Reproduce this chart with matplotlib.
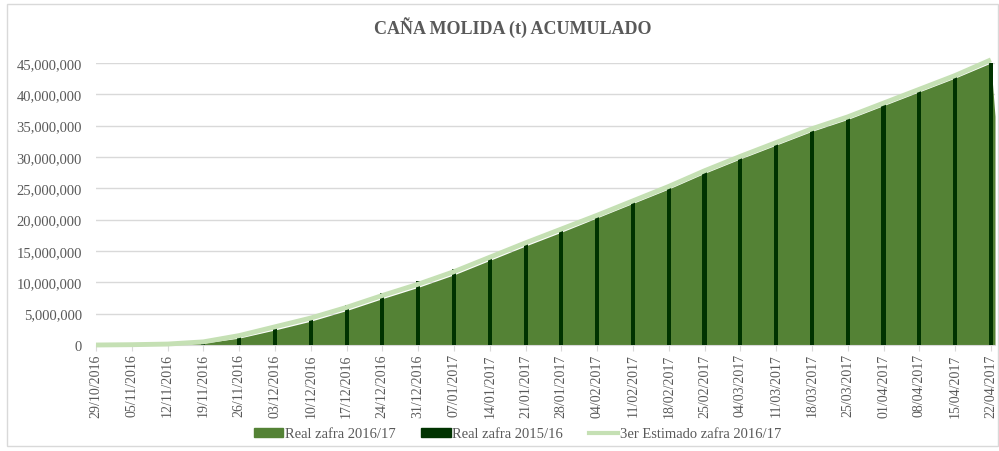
import numpy as np
import matplotlib.pyplot as plt
from matplotlib.patches import Patch, Rectangle
from matplotlib.lines import Line2D
from matplotlib.ticker import FuncFormatter

plt.rcParams['font.family'] = ['Liberation Serif', 'DejaVu Serif']

# weekly dates (Saturday), 29/10/2016 .. 22/04/2017
fechas = ["29/10/2016", "05/11/2016", "12/11/2016", "19/11/2016", "26/11/2016",
          "03/12/2016", "10/12/2016", "17/12/2016", "24/12/2016", "31/12/2016",
          "07/01/2017", "14/01/2017", "21/01/2017", "28/01/2017", "04/02/2017",
          "11/02/2017", "18/02/2017", "25/02/2017", "04/03/2017", "11/03/2017",
          "18/03/2017", "25/03/2017", "01/04/2017", "08/04/2017", "15/04/2017",
          "22/04/2017"]

# cumulative cane milled, millions of t
real_2016 = [0.0, 0.03, 0.1, 0.3, 1.1, 2.4, 3.8, 5.5, 7.4, 9.2, 11.2, 13.5, 15.8,
             18.0, 20.3, 22.6, 24.9, 27.4, 29.7, 31.9, 34.1, 36.0, 38.2, 40.4,
             42.6, 45.0]
real_2016_fin = 36.5   # last daily point after 22/04 (area drops at the edge)
real_2015 = [0.0, 0.0, 0.3, 0.7, 1.7, 3.0, 4.6, 6.4, 8.3, 10.2, 12.1, 14.2, 16.4,
             18.5, 20.6, 22.9, 25.2, 27.6, 30.0, 32.2, 34.6, 36.4, 38.5, 40.8,
             43.0, 45.1]
estimado = [0.0, 0.05, 0.15, 0.5, 1.5, 2.9, 4.3, 6.0, 7.9, 9.7, 11.7, 14.0, 16.3,
            18.5, 20.7, 23.0, 25.3, 27.8, 30.1, 32.3, 34.5, 36.4, 38.6, 40.8,
            43.0, 45.5]

c_area = "#548235"
c_bar = "#003300"
c_line = "#c5e0b4"
c_text = "#595959"

dias = np.arange(len(fechas)) * 7
xmax = dias[-1] + 0.8

fig = plt.figure(figsize=(9.99, 4.52), dpi=100)
fig.patches.append(Rectangle((7 / 999, 5 / 452), 991 / 999, 442 / 452,
                             transform=fig.transFigure, fill=False,
                             edgecolor="#d9d9d9", lw=1))
ax = fig.add_axes([96 / 999, 1 - 346 / 452, (995 - 96) / 999, (346 - 64) / 452])

xa = np.append(dias, xmax)
ya = np.append(real_2016, real_2016_fin) * 1e6
ax.fill_between(xa, ya, 0, color=c_area, lw=0, zorder=2)
ax.bar(dias, np.array(real_2015) * 1e6, width=0.8, color=c_bar, zorder=3)
ax.plot(dias, np.array(estimado) * 1e6, color=c_line, lw=3.5, zorder=4,
        clip_on=False, solid_capstyle="butt")

ax.set_xlim(0, xmax)
ax.set_ylim(0, 45e6)
ax.set_yticks(np.arange(0, 45e6 + 1, 5e6))
ax.yaxis.set_major_formatter(FuncFormatter(lambda v, p: f"{v:,.0f}"))
ax.set_xticks(dias)
ax.set_xticklabels(fechas, rotation=90)
ax.grid(axis="y", color="#d9d9d9", lw=1, zorder=0)
ax.set_axisbelow(True)
for s in ["top", "right", "left"]:
    ax.spines[s].set_visible(False)
ax.spines["bottom"].set_color("#d9d9d9")
ax.tick_params(axis="y", length=0, labelsize=10.5, labelcolor=c_text, pad=10)
ax.tick_params(axis="x", length=4, color="#d9d9d9", labelsize=10,
               labelcolor=c_text, pad=2)

fig.text(0.513, 1 - 28 / 452, "CAÑA MOLIDA (t) ACUMULADO", ha="center",
         va="center", fontsize=13, fontweight="bold", color=c_text)

handles = [Patch(color=c_area, label="Real zafra 2016/17"),
           Patch(color=c_bar, label="Real zafra 2015/16"),
           Line2D([], [], color=c_line, lw=3, label="3er Estimado zafra 2016/17")]
leg = fig.legend(handles=handles, loc="center", bbox_to_anchor=(0.518, 1 - 435 / 452),
                 ncol=3, frameon=False, fontsize=10.5, handlelength=2.0,
                 handleheight=0.6, handletextpad=0.1, columnspacing=1.8)
for t in leg.get_texts():
    t.set_color(c_text)

fig.savefig("out.png", dpi=100)
